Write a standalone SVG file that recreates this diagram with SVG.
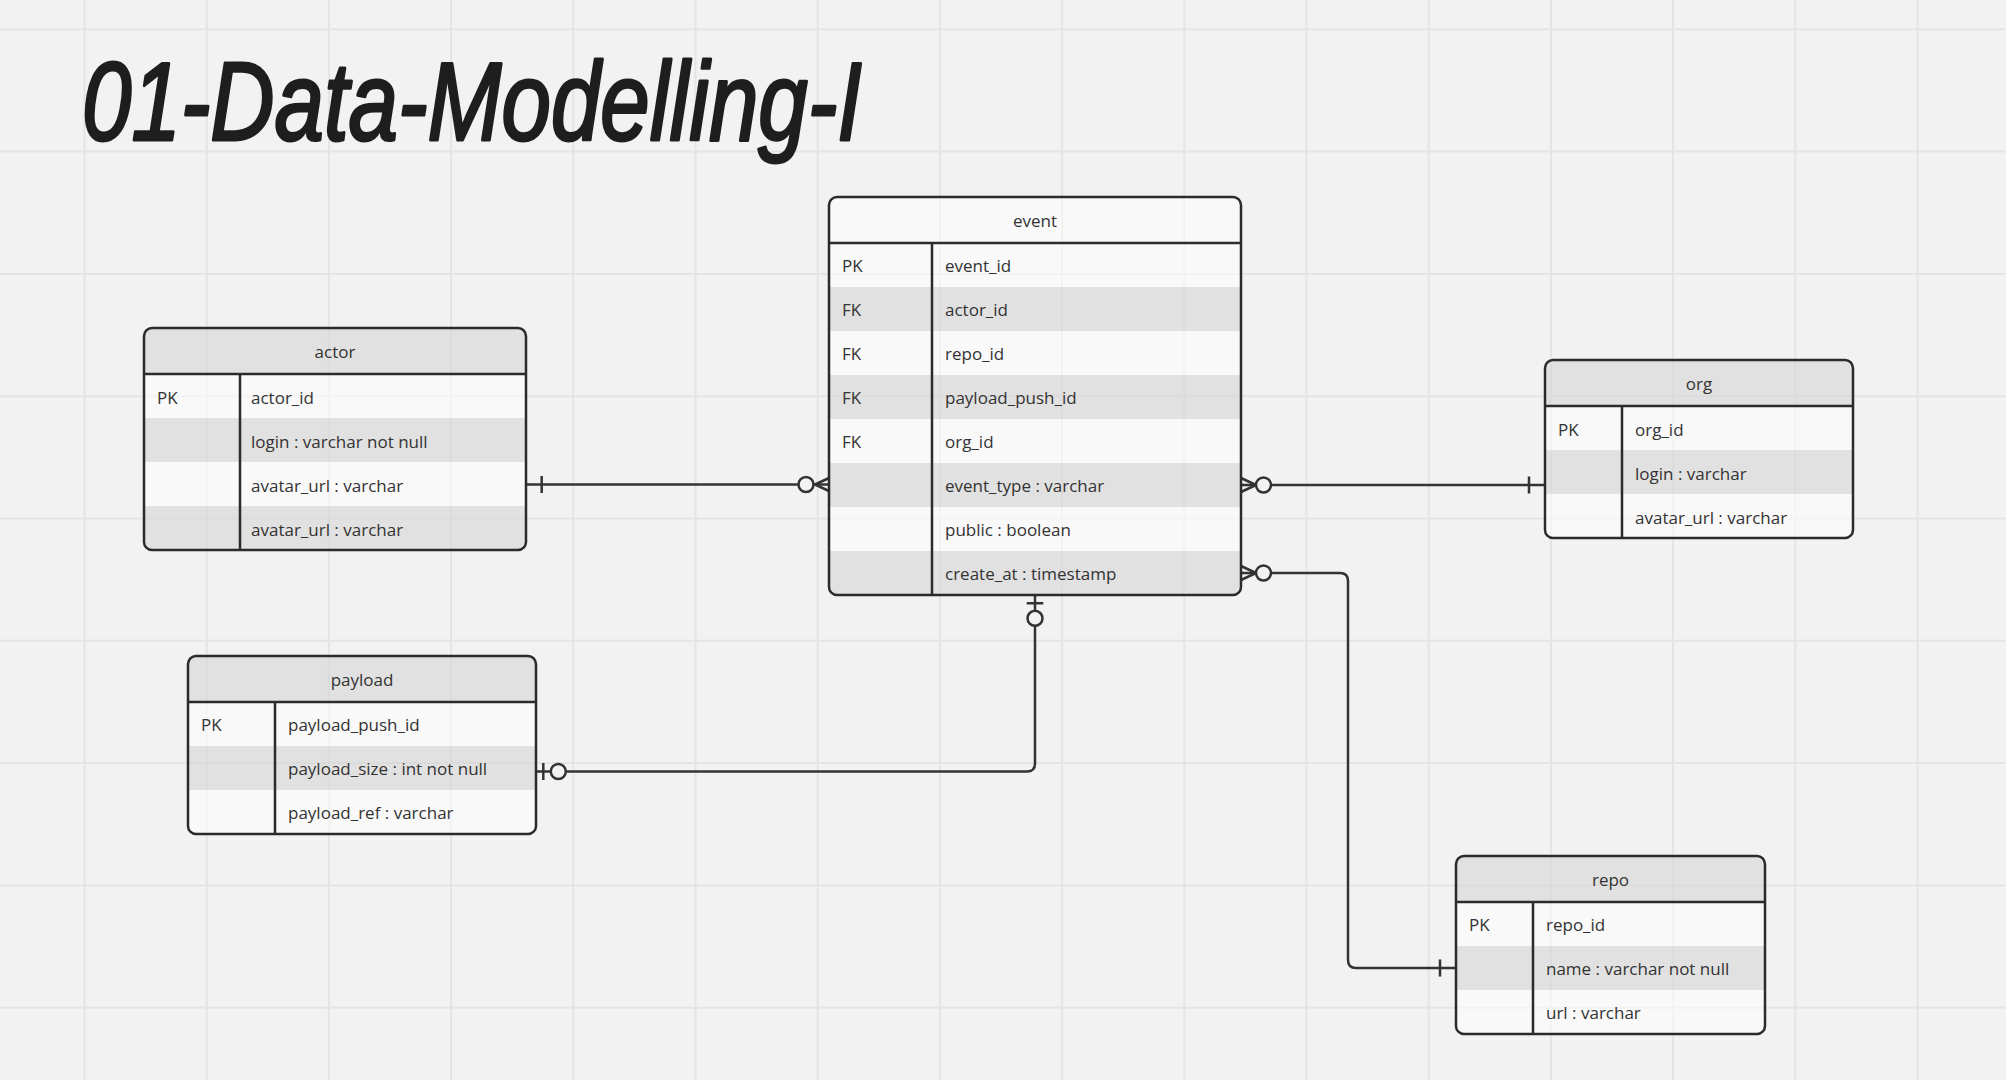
<svg xmlns="http://www.w3.org/2000/svg" width="2006" height="1080" viewBox="0 0 2006 1080">
<style>
.grid line{stroke:#e4e4e4;stroke-width:2}
.t{font-family:"Open Sans","Noto Sans",sans-serif;font-size:17px;fill:#333}
.h{text-anchor:middle}
.hd{fill:#d6d6d6;fill-opacity:0.6}
.hdl{fill:#ffffff;fill-opacity:0.5}
.lr{fill:#ffffff;fill-opacity:0.55}
.gr{fill:#d6d6d6;fill-opacity:0.6}
.box{fill:none;stroke:#2b2b2b;stroke-width:2.5}
.sep{stroke:#2b2b2b;stroke-width:2.5}
.cn{fill:none;stroke:#333;stroke-width:2.5}
.ci{fill:#f2f2f2;stroke:#333;stroke-width:2.5}
.title{font-family:"Liberation Sans",Arial,sans-serif;font-style:italic;font-weight:normal;font-size:112px;fill:#1e1e1e;stroke:#1e1e1e;stroke-width:3;stroke-linejoin:round}
</style>
<defs>
<clipPath id="cA"><rect x="144" y="328" width="382" height="222" rx="8"/></clipPath>
<clipPath id="cE"><rect x="829" y="197" width="412" height="398" rx="8"/></clipPath>
<clipPath id="cO"><rect x="1545" y="360" width="308" height="178" rx="8"/></clipPath>
<clipPath id="cP"><rect x="188" y="656" width="348" height="178" rx="8"/></clipPath>
<clipPath id="cR"><rect x="1456" y="856" width="309" height="178" rx="8"/></clipPath>
</defs>
<rect width="2006" height="1080" fill="#f2f2f2"/>
<g class="grid">
<line x1="84.5" y1="0" x2="84.5" y2="1080"/><line x1="206.7" y1="0" x2="206.7" y2="1080"/><line x1="328.9" y1="0" x2="328.9" y2="1080"/><line x1="451.1" y1="0" x2="451.1" y2="1080"/><line x1="573.3" y1="0" x2="573.3" y2="1080"/><line x1="695.5" y1="0" x2="695.5" y2="1080"/><line x1="817.7" y1="0" x2="817.7" y2="1080"/><line x1="939.9" y1="0" x2="939.9" y2="1080"/><line x1="1062.1" y1="0" x2="1062.1" y2="1080"/><line x1="1184.3" y1="0" x2="1184.3" y2="1080"/><line x1="1306.5" y1="0" x2="1306.5" y2="1080"/><line x1="1428.7" y1="0" x2="1428.7" y2="1080"/><line x1="1550.9" y1="0" x2="1550.9" y2="1080"/><line x1="1673.1" y1="0" x2="1673.1" y2="1080"/><line x1="1795.3" y1="0" x2="1795.3" y2="1080"/><line x1="1917.5" y1="0" x2="1917.5" y2="1080"/>
<line x1="0" y1="29.3" x2="2006" y2="29.3"/><line x1="0" y1="151.6" x2="2006" y2="151.6"/><line x1="0" y1="273.9" x2="2006" y2="273.9"/><line x1="0" y1="396.2" x2="2006" y2="396.2"/><line x1="0" y1="518.5" x2="2006" y2="518.5"/><line x1="0" y1="640.8" x2="2006" y2="640.8"/><line x1="0" y1="763.1" x2="2006" y2="763.1"/><line x1="0" y1="885.4" x2="2006" y2="885.4"/><line x1="0" y1="1007.7" x2="2006" y2="1007.7"/>
</g>
<text class="title" x="82" y="140" textLength="780" lengthAdjust="spacingAndGlyphs">01-Data-Modelling-I</text>

<g id="connectors">
<path class="cn" d="M526,484.5 H829"/>
<path class="cn" d="M541.7,476 V493 M815,484.5 L829,478 M815,484.5 L829,491"/>
<circle class="ci" cx="806" cy="484.5" r="7.5"/>
<path class="cn" d="M1241,485 H1545"/>
<path class="cn" d="M1529,476.5 V493.5 M1256,485 L1241,478 M1256,485 L1241,492"/>
<circle class="ci" cx="1263.5" cy="485" r="7.5"/>
<path class="cn" d="M1241,573 H1340 Q1348,573 1348,581 V960 Q1348,968 1356,968 H1456"/>
<path class="cn" d="M1440,959.5 V976.5 M1256,573 L1241,566 M1256,573 L1241,580"/>
<circle class="ci" cx="1263.5" cy="573" r="7.5"/>
<path class="cn" d="M1035,595 V763.5 Q1035,771.5 1027,771.5 H536"/>
<path class="cn" d="M1026.7,603.3 H1043.3 M543.3,763 V780"/>
<circle class="ci" cx="1035" cy="618.3" r="7.5"/>
<circle class="ci" cx="558.3" cy="771.5" r="7.5"/>
</g>

<g id="actor">
<g clip-path="url(#cA)">
<rect class="hd" x="144" y="328" width="382" height="46"/>
<rect class="lr" x="144" y="374" width="382" height="44"/>
<rect class="gr" x="144" y="418" width="382" height="44"/>
<rect class="lr" x="144" y="462" width="382" height="44"/>
<rect class="gr" x="144" y="506" width="382" height="44"/>
</g>
<rect class="box" x="144" y="328" width="382" height="222" rx="8"/>
<line class="sep" x1="144" y1="374" x2="526" y2="374"/>
<line class="sep" x1="240" y1="374" x2="240" y2="550"/>
<text class="t h" x="335" y="358">actor</text>
<text class="t" x="157" y="404">PK</text>
<text class="t" x="251" y="404">actor_id</text>
<text class="t" x="251" y="448">login : varchar not null</text>
<text class="t" x="251" y="492">avatar_url : varchar</text>
<text class="t" x="251" y="536">avatar_url : varchar</text>
</g>

<g id="event">
<g clip-path="url(#cE)">
<rect class="hdl" x="829" y="197" width="412" height="46"/>
<rect class="lr" x="829" y="243" width="412" height="44"/>
<rect class="gr" x="829" y="287" width="412" height="44"/>
<rect class="lr" x="829" y="331" width="412" height="44"/>
<rect class="gr" x="829" y="375" width="412" height="44"/>
<rect class="lr" x="829" y="419" width="412" height="44"/>
<rect class="gr" x="829" y="463" width="412" height="44"/>
<rect class="lr" x="829" y="507" width="412" height="44"/>
<rect class="gr" x="829" y="551" width="412" height="44"/>
</g>
<rect class="box" x="829" y="197" width="412" height="398" rx="8"/>
<line class="sep" x1="829" y1="243" x2="1241" y2="243"/>
<line class="sep" x1="932" y1="243" x2="932" y2="595"/>
<text class="t h" x="1035" y="227">event</text>
<text class="t" x="842" y="272">PK</text>
<text class="t" x="945" y="272">event_id</text>
<text class="t" x="842" y="316">FK</text>
<text class="t" x="945" y="316">actor_id</text>
<text class="t" x="842" y="360">FK</text>
<text class="t" x="945" y="360">repo_id</text>
<text class="t" x="842" y="404">FK</text>
<text class="t" x="945" y="404">payload_push_id</text>
<text class="t" x="842" y="448">FK</text>
<text class="t" x="945" y="448">org_id</text>
<text class="t" x="945" y="492">event_type : varchar</text>
<text class="t" x="945" y="536">public : boolean</text>
<text class="t" x="945" y="580">create_at : timestamp</text>
</g>

<g id="org">
<g clip-path="url(#cO)">
<rect class="hd" x="1545" y="360" width="308" height="46"/>
<rect class="lr" x="1545" y="406" width="308" height="44"/>
<rect class="gr" x="1545" y="450" width="308" height="44"/>
<rect class="lr" x="1545" y="494" width="308" height="44"/>
</g>
<rect class="box" x="1545" y="360" width="308" height="178" rx="8"/>
<line class="sep" x1="1545" y1="406" x2="1853" y2="406"/>
<line class="sep" x1="1622" y1="406" x2="1622" y2="538"/>
<text class="t h" x="1699" y="390">org</text>
<text class="t" x="1558" y="436">PK</text>
<text class="t" x="1635" y="436">org_id</text>
<text class="t" x="1635" y="480">login : varchar</text>
<text class="t" x="1635" y="524">avatar_url : varchar</text>
</g>

<g id="payload">
<g clip-path="url(#cP)">
<rect class="hd" x="188" y="656" width="348" height="46"/>
<rect class="lr" x="188" y="702" width="348" height="44"/>
<rect class="gr" x="188" y="746" width="348" height="44"/>
<rect class="lr" x="188" y="790" width="348" height="44"/>
</g>
<rect class="box" x="188" y="656" width="348" height="178" rx="8"/>
<line class="sep" x1="188" y1="702" x2="536" y2="702"/>
<line class="sep" x1="275" y1="702" x2="275" y2="834"/>
<text class="t h" x="362" y="686">payload</text>
<text class="t" x="201" y="731">PK</text>
<text class="t" x="288" y="731">payload_push_id</text>
<text class="t" x="288" y="775">payload_size : int not null</text>
<text class="t" x="288" y="819">payload_ref : varchar</text>
</g>

<g id="repo">
<g clip-path="url(#cR)">
<rect class="hd" x="1456" y="856" width="309" height="46"/>
<rect class="lr" x="1456" y="902" width="309" height="44"/>
<rect class="gr" x="1456" y="946" width="309" height="44"/>
<rect class="lr" x="1456" y="990" width="309" height="44"/>
</g>
<rect class="box" x="1456" y="856" width="309" height="178" rx="8"/>
<line class="sep" x1="1456" y1="902" x2="1765" y2="902"/>
<line class="sep" x1="1533" y1="902" x2="1533" y2="1034"/>
<text class="t h" x="1610.5" y="886">repo</text>
<text class="t" x="1469" y="931">PK</text>
<text class="t" x="1546" y="931">repo_id</text>
<text class="t" x="1546" y="975">name : varchar not null</text>
<text class="t" x="1546" y="1019">url : varchar</text>
</g>
</svg>
